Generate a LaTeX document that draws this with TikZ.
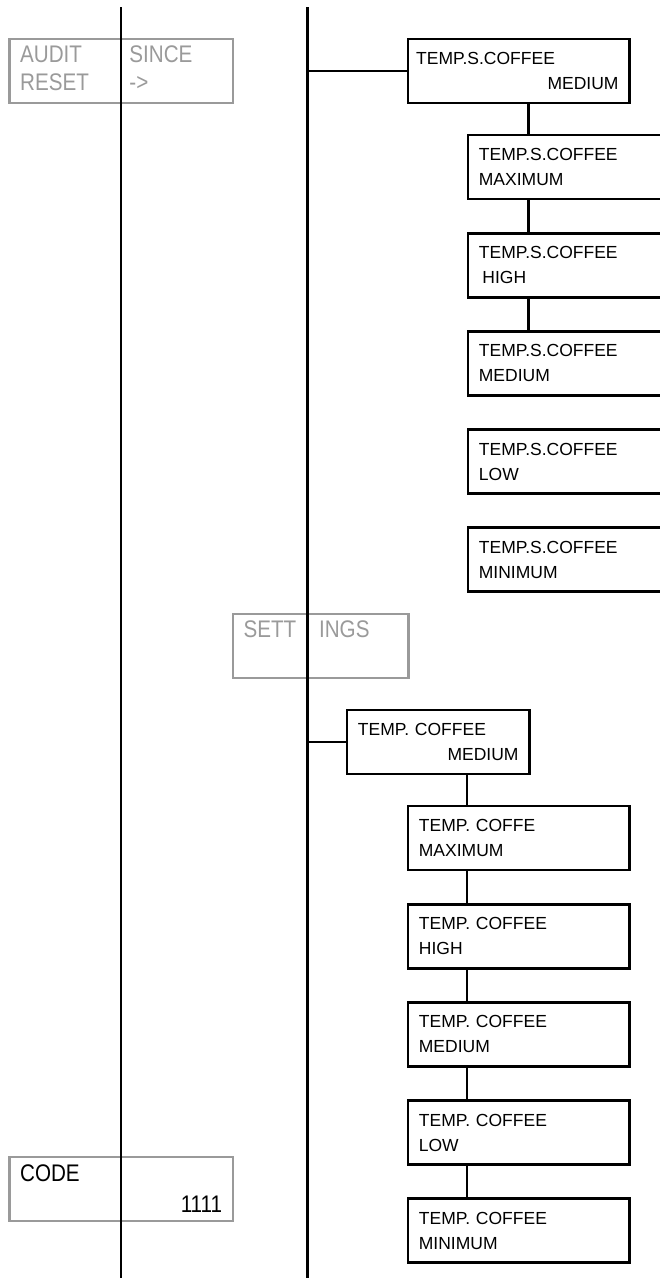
\documentclass[tikz,border=0pt]{standalone}
\usepackage{fontspec}
\setmainfont{Liberation Sans}
\usepackage{graphicx}
\usepackage{array}
\usepackage{tikz}
\usetikzlibrary{positioning}
\definecolor{dispGray}{HTML}{9A9A9A}
\newcommand{\lcdfont}{\fontsize{17.5}{25}\selectfont}
\newcommand{\grayfont}{\fontsize{24}{27.6}\selectfont}
\newcommand{\slim}[1]{\scalebox{0.86}[1]{#1}}
\tikzset{
  lcd/.style={draw, line width=2.4pt, anchor=north west, minimum height=64pt,
    inner xsep=11pt, inner ysep=0pt, align=left, font=\lcdfont},
  lcdwide/.style={lcd, text width=199.6pt},
  lcdgray/.style={lcd, draw=dispGray, line width=2.2pt, text=dispGray,
    inner xsep=10.7pt, font=\grayfont},
  bus/.style={line width=2.4pt},
}

\begin{document}
\begin{tikzpicture}[x=1pt, y=-1pt]
  \path[use as bounding box, clip] (0,0) rectangle (660,1280);
  % gray displays
  \node[lcdgray] (dispAudit) at (8.3,37.7)
    {\begin{tabular}{@{}p{109.3pt}@{}p{92.7pt}@{}}\slim{AUDIT} & \slim{SINCE}\\ \slim{RESET} & \slim{->}\end{tabular}};
  \node[lcdgray] (dispSettings) at (231.7,612.7)
    {\begin{tabular}{@{}p{75.6pt}@{}p{78.6pt}@{}}\slim{SETT} & \slim{INGS}\\ & \end{tabular}};
  \node[lcdgray, text=black] (dispCode) at (8.3,1155.7)
    {\begin{tabular}{@{}p{202pt}@{}}\rule{0pt}{24.3pt}\slim{CODE}\\[4.1pt] \hfill\slim{1111}\end{tabular}};
  % bus lines
  \coordinate (busAtop) at (121,7);
  \coordinate (busAbot) at (121,1278);
  \coordinate (busBtop) at (307.5,7);
  \coordinate (busBbot) at (307.5,1278);
  \draw[bus] (busAtop) -- (busAbot);
  \draw[bus] (busBtop) -- (busBbot);
  % special coffee
  \node[lcdwide] (spec1) at (406.7,37.7) {\hspace*{-2.7pt}TEMP.S.COFFEE\\\hspace*{\fill}MEDIUM\hspace*{9.3pt}};
  \node[lcdwide] (spec2) at (466.7,134) {TEMP.S.COFFEE\\MAXIMUM};
  \node[lcdwide, below=31.7pt of spec2.south west, anchor=north west] (spec3) {TEMP.S.COFFEE\\\hspace*{3.5pt}HIGH};
  \node[lcdwide, below=31.7pt of spec3.south west, anchor=north west] (spec4) {TEMP.S.COFFEE\\MEDIUM};
  \node[lcdwide, below=31.7pt of spec4.south west, anchor=north west] (spec5) {TEMP.S.COFFEE\\LOW};
  \node[lcdwide, below=31.7pt of spec5.south west, anchor=north west] (spec6) {TEMP.S.COFFEE\\MINIMUM};
  % coffee
  \node[lcd, text width=160.6pt] (cof1) at (345.7,709) {TEMP. COFFEE\\\hspace*{\fill}MEDIUM};
  \node[lcdwide] (cof2) at (406.7,805) {TEMP. COFFE\\MAXIMUM};
  \node[lcdwide, below=31.7pt of cof2.south west, anchor=north west] (cof3) {TEMP. COFFEE\\HIGH};
  \node[lcdwide, below=31.7pt of cof3.south west, anchor=north west] (cof4) {TEMP. COFFEE\\MEDIUM};
  \node[lcdwide, below=31.7pt of cof4.south west, anchor=north west] (cof5) {TEMP. COFFEE\\LOW};
  \node[lcdwide, below=31.7pt of cof5.south west, anchor=north west] (cof6) {TEMP. COFFEE\\MINIMUM};
  % links
  \draw[bus] (busBtop |- spec1.west) -- (spec1.west);
  \draw[bus] (busBtop |- cof1.west) -- (cof1.west);
  \coordinate (jointS) at (528.3,0);
  \coordinate (jointC) at (466.7,0);
  \foreach \a/\b in {1/2,2/3,3/4}
    \draw[bus] (spec\a.south -| jointS) -- (spec\b.north -| jointS);
  \foreach \a/\b in {1/2,2/3,3/4,4/5,5/6}
    \draw[bus] (cof\a.south -| jointC) -- (cof\b.north -| jointC);
\end{tikzpicture}
\end{document}
